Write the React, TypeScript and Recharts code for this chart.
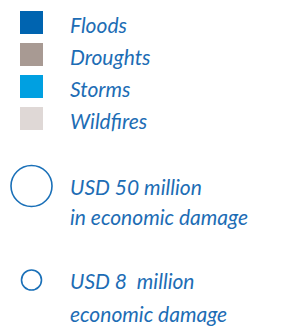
import { Scatter, ScatterChart, XAxis, YAxis, ZAxis } from 'recharts';

// legend entries for disaster type
const categories = ['Floods', 'Droughts', 'Storms', 'Wildfires'];
const categoryColors = ['#0064b0', '#a89a93', '#00a0e1', '#dfd8d6'];

// bubble size reference (USD million)
const damageValues = [50, 8];
const damageLines = [
  ['USD 50 million', 'in economic damage'],
  ['USD 8  million', 'economic damage'],
];

const TEXT_COLOR = '#1d6db5';
const FONT = 'Lato, "Open Sans", sans-serif';

const typeData = categories.map((name, i) => ({ col: 0, name, color: categoryColors[i] }));
const damageData = damageValues.map((value, i) => ({ col: 0, key: `d${i}`, value, lines: damageLines[i] }));

const SquareShape = (props: any) => {
  const { cx, cy, payload } = props;
  return (
    <g>
      <rect x={cx - 11.5} y={cy - 11.5} width={23} height={23} fill={payload.color} />
      <text x={cx + 38.5} y={cy + 10.5} fill={TEXT_COLOR} fontSize={21} fontStyle="italic" fontWeight={400} fontFamily={FONT}>
        {payload.name}
      </text>
    </g>
  );
};

const BubbleShape = (props: any) => {
  const { cx, cy, width, payload } = props;
  const lineGap = payload.value >= 50 ? 30 : 33;
  return (
    <g>
      <circle cx={cx} cy={cy} r={width / 2} fill="none" stroke="#1a70b8" strokeWidth={1.6} />
      {payload.lines.map((line: string, i: number) => (
        <text
          key={i}
          x={cx + 38.5}
          y={cy + 9 + i * lineGap}
          fill={TEXT_COLOR}
          fontSize={21}
          fontStyle="italic"
          fontFamily={FONT}
          style={{ whiteSpace: 'pre' }}
        >
          {line}
        </text>
      ))}
    </g>
  );
};

export default function App() {
  return (
    <div style={{ width: 286, height: 327, background: '#fff' }}>
      <style>{'body{margin:0}'}</style>
      <ScatterChart width={286} height={327} margin={{ top: 0, right: 0, bottom: 0, left: 0 }}>
        <XAxis type="number" dataKey="col" domain={[0, 1]} hide padding={{ left: 31.5, right: 0 }} />
        <YAxis
          yAxisId="type"
          type="category"
          dataKey="name"
          scale="point"
          allowDuplicatedCategory={false}
          reversed
          hide
          padding={{ top: 22.5, bottom: 208.5 }}
        />
        <YAxis
          yAxisId="damage"
          type="category"
          dataKey="key"
          scale="point"
          reversed
          hide
          padding={{ top: 186, bottom: 47 }}
        />
        <ZAxis zAxisId="damage" type="number" dataKey="value" domain={[8, 50]} range={[314, 1320]} />
        <Scatter data={typeData} yAxisId="type" shape={SquareShape} isAnimationActive={false} />
        <Scatter data={damageData} yAxisId="damage" zAxisId="damage" shape={BubbleShape} isAnimationActive={false} />
      </ScatterChart>
    </div>
  );
}
